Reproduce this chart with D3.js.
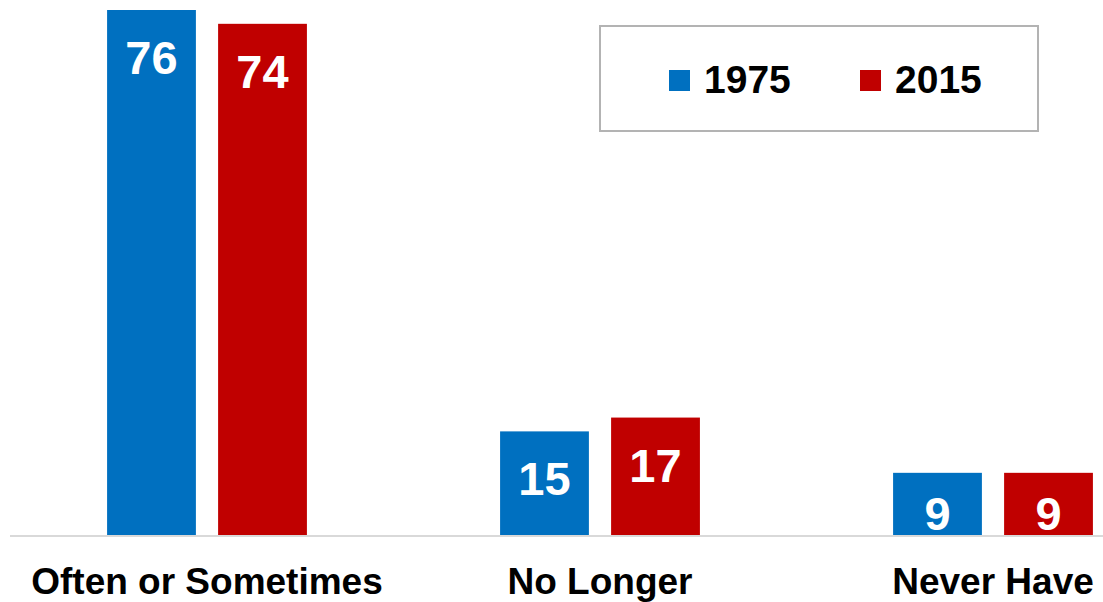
<!DOCTYPE html>
<html>
<head>
<meta charset="utf-8">
<script src="https://cdn.jsdelivr.net/npm/d3@7"></script>
<style>
  html, body { margin: 0; padding: 0; background: #fff; overflow: hidden; }
  svg { display: block; font-family: "Liberation Sans", Arial, sans-serif; }
</style>
</head>
<body>
<div id="chart"></div>
<script>
// data
const categories = ["Often or Sometimes", "No Longer", "Never Have"];
const years = ["1975", "2015"];
const values1975 = [76, 15, 9];
const values2015 = [74, 17, 9];

(function() {
    const width = 1103, height = 602;
    const baseY = 535;

    const svg = d3.select("#chart")
        .append("svg")
        .attr("width", width)
        .attr("height", height);

    const colorScale = d3.scaleOrdinal()
        .domain(years)
        .range(["#0070c0", "#c00000"]);

    // group scale runs past the right edge, the original is cropped there
    const x0 = d3.scaleBand()
        .domain(categories)
        .range([10.5, 1189.5])
        .padding(0);

    const x1 = d3.scaleBand()
        .domain(years)
        .range([0, x0.bandwidth()])
        .paddingInner(0.2)
        .paddingOuter(0.87);

    const y = d3.scaleLinear()
        .domain([0, 76])
        .range([baseY, 10]);

    const rows = categories.map((c, i) => ({
        category: c,
        values: [
            {year: "1975", value: values1975[i]},
            {year: "2015", value: values2015[i]}
        ]
    }));

    // baseline
    svg.append("line")
        .attr("x1", 10)
        .attr("x2", width)
        .attr("y1", baseY + 1)
        .attr("y2", baseY + 1)
        .attr("stroke", "#d9d9d9")
        .attr("stroke-width", 2);

    const groups = svg.selectAll(".group")
        .data(rows)
        .enter()
        .append("g")
        .attr("class", "group")
        .attr("transform", d => `translate(${x0(d.category)},0)`);

    groups.selectAll("rect")
        .data(d => d.values)
        .enter()
        .append("rect")
        .attr("x", d => x1(d.year))
        .attr("y", d => y(d.value))
        .attr("width", x1.bandwidth())
        .attr("height", d => baseY - y(d.value))
        .attr("fill", d => colorScale(d.year));

    groups.selectAll(".val")
        .data(d => d.values)
        .enter()
        .append("text")
        .attr("class", "val")
        .attr("x", d => x1(d.year) + x1.bandwidth() / 2)
        .attr("y", d => Math.min(y(d.value) + 64, baseY - 5))
        .attr("text-anchor", "middle")
        .style("fill", "#fff")
        .style("font-size", "47px")
        .style("font-weight", "bold")
        .text(d => d.value);

    // category labels
    svg.selectAll(".cat")
        .data(categories)
        .enter()
        .append("text")
        .attr("class", "cat")
        .attr("x", d => x0(d) + x0.bandwidth() / 2)
        .attr("y", 594)
        .attr("text-anchor", "middle")
        .style("fill", "#000")
        .style("font-size", "37px")
        .style("font-weight", "bold")
        .text(d => d);

    // legend
    const legend = svg.append("g");

    legend.append("rect")
        .attr("x", 600)
        .attr("y", 26)
        .attr("width", 438)
        .attr("height", 105)
        .attr("fill", "#fff")
        .attr("stroke", "#b3b3b3")
        .attr("stroke-width", 2);

    const legendX = [669, 860];
    years.forEach((yr, i) => {
        legend.append("rect")
            .attr("x", legendX[i])
            .attr("y", 70)
            .attr("width", 21)
            .attr("height", 21)
            .attr("fill", colorScale(yr));

        legend.append("text")
            .attr("x", legendX[i] + 35)
            .attr("y", 93)
            .style("fill", "#000")
            .style("font-size", "39px")
            .style("font-weight", "bold")
            .text(yr);
    });
})();
</script>
</body>
</html>
